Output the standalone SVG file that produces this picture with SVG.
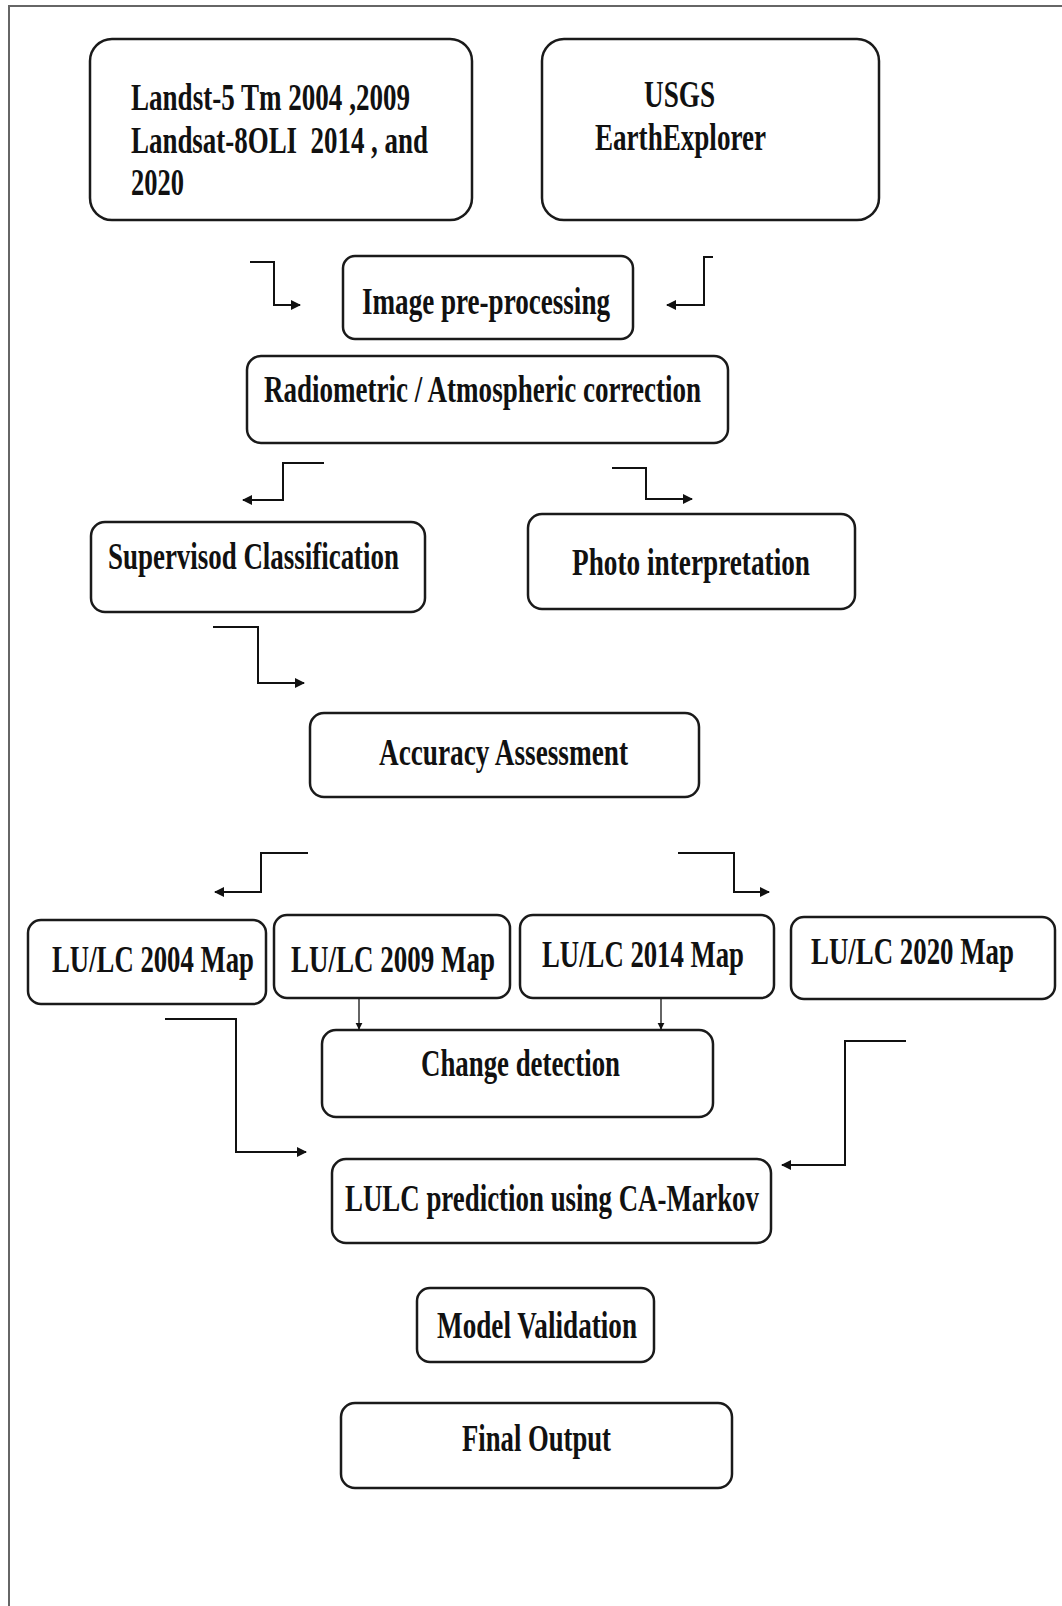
<svg xmlns="http://www.w3.org/2000/svg" width="1062" height="1606" viewBox="0 0 1062 1606">
<style>
.box{fill:#fff;stroke:#1a1a1a;stroke-width:2.5}
.t{font-family:"Liberation Serif","Times New Roman",serif;font-weight:bold;font-size:27px;fill:#111;white-space:pre}
.c{fill:none;stroke:#111;stroke-width:2}
.s{fill:none;stroke:#111;stroke-width:1.3}
</style>
<defs>
<marker id="ah" viewBox="0 0 10 10" refX="9" refY="5" markerWidth="11" markerHeight="10" markerUnits="userSpaceOnUse" orient="auto">
<path d="M0,0 L10,5 L0,10 Z" fill="#111"/>
</marker>
<marker id="ahs" viewBox="0 0 10 10" refX="9" refY="5" markerWidth="7" markerHeight="8" markerUnits="userSpaceOnUse" orient="auto">
<path d="M0,0 L10,5 L0,10 Z" fill="#111"/>
</marker>
</defs>
<rect width="1062" height="1606" fill="#fff"/>
<path d="M9,1606 V6 H1062" fill="none" stroke="#666" stroke-width="2"/>

<g id="n-landsat">
<rect class="box" x="90" y="39" width="382" height="181" rx="22"/>
<text class="t" transform="translate(131,110) scale(1,1.37)" textLength="279" lengthAdjust="spacingAndGlyphs">Landst-5 Tm 2004 ,2009</text>
<text class="t" transform="translate(131,153) scale(1,1.37)" textLength="297" lengthAdjust="spacingAndGlyphs">Landsat-8OLI  2014 , and</text>
<text class="t" transform="translate(131,195) scale(1,1.37)" textLength="53" lengthAdjust="spacingAndGlyphs">2020</text>
</g>
<g id="n-usgs">
<rect class="box" x="542" y="39" width="337" height="181" rx="22"/>
<text class="t" transform="translate(644,107) scale(1,1.37)" textLength="71" lengthAdjust="spacingAndGlyphs">USGS</text>
<text class="t" transform="translate(595,150) scale(1,1.37)" textLength="171" lengthAdjust="spacingAndGlyphs">EarthExplorer</text>
</g>
<g id="n-preproc">
<rect class="box" x="343" y="256" width="290" height="83" rx="12"/>
<text class="t" transform="translate(362,314) scale(1,1.37)" textLength="248" lengthAdjust="spacingAndGlyphs">Image pre-processing</text>
</g>
<g id="n-radiometric">
<rect class="box" x="247" y="356" width="481" height="87" rx="14"/>
<text class="t" transform="translate(264,402) scale(1,1.37)" textLength="437" lengthAdjust="spacingAndGlyphs">Radiometric / Atmospheric correction</text>
</g>
<g id="n-supervised">
<rect class="box" x="91" y="522" width="334" height="90" rx="14"/>
<text class="t" transform="translate(108,569) scale(1,1.37)" textLength="291" lengthAdjust="spacingAndGlyphs">Supervisod Classification</text>
</g>
<g id="n-photo">
<rect class="box" x="528" y="514" width="327" height="95" rx="14"/>
<text class="t" transform="translate(572,575) scale(1,1.37)" textLength="238" lengthAdjust="spacingAndGlyphs">Photo interpretation</text>
</g>
<g id="n-accuracy">
<rect class="box" x="310" y="713" width="389" height="84" rx="14"/>
<text class="t" transform="translate(379,765) scale(1,1.37)" textLength="249" lengthAdjust="spacingAndGlyphs">Accuracy Assessment</text>
</g>
<g id="n-2004">
<rect class="box" x="28" y="920" width="238" height="84" rx="13"/>
<text class="t" transform="translate(52,972) scale(1,1.37)" textLength="202" lengthAdjust="spacingAndGlyphs">LU/LC 2004 Map</text>
</g>
<g id="n-2009">
<rect class="box" x="274" y="915" width="236" height="83" rx="13"/>
<text class="t" transform="translate(291,972) scale(1,1.37)" textLength="204" lengthAdjust="spacingAndGlyphs">LU/LC 2009 Map</text>
</g>
<g id="n-2014">
<rect class="box" x="520" y="915" width="254" height="83" rx="13"/>
<text class="t" transform="translate(542,967) scale(1,1.37)" textLength="202" lengthAdjust="spacingAndGlyphs">LU/LC 2014 Map</text>
</g>
<g id="n-2020">
<rect class="box" x="791" y="917" width="264" height="82" rx="13"/>
<text class="t" transform="translate(811,964) scale(1,1.37)" textLength="203" lengthAdjust="spacingAndGlyphs">LU/LC 2020 Map</text>
</g>
<g id="n-change">
<rect class="box" x="322" y="1030" width="391" height="87" rx="14"/>
<text class="t" transform="translate(421,1076) scale(1,1.37)" textLength="199" lengthAdjust="spacingAndGlyphs">Change detection</text>
</g>
<g id="n-prediction">
<rect class="box" x="332" y="1159" width="439" height="84" rx="14"/>
<text class="t" transform="translate(345,1211) scale(1,1.37)" textLength="414" lengthAdjust="spacingAndGlyphs">LULC prediction using CA-Markov</text>
</g>
<g id="n-validation">
<rect class="box" x="417" y="1288" width="237" height="74" rx="13"/>
<text class="t" transform="translate(437,1338) scale(1,1.37)" textLength="200" lengthAdjust="spacingAndGlyphs">Model Validation</text>
</g>
<g id="n-final">
<rect class="box" x="341" y="1403" width="391" height="85" rx="14"/>
<text class="t" transform="translate(462,1451) scale(1,1.37)" textLength="149" lengthAdjust="spacingAndGlyphs">Final Output</text>
</g>

<g id="connectors">
<path class="c" d="M250,262 H274 V305 H300" marker-end="url(#ah)"/>
<path class="c" d="M713,257 H704 V305 H667" marker-end="url(#ah)"/>
<path class="c" d="M324,463 H283 V500 H243" marker-end="url(#ah)"/>
<path class="c" d="M612,468 H646 V499 H692" marker-end="url(#ah)"/>
<path class="c" d="M213,627 H258 V683 H304" marker-end="url(#ah)"/>
<path class="c" d="M308,853 H261 V892 H215" marker-end="url(#ah)"/>
<path class="c" d="M678,853 H734 V892 H769" marker-end="url(#ah)"/>
<path class="s" d="M359,999 V1029" marker-end="url(#ahs)"/>
<path class="s" d="M661,999 V1029" marker-end="url(#ahs)"/>
<path class="c" d="M165,1019 H236 V1152 H306" marker-end="url(#ah)"/>
<path class="c" d="M906,1041 H845 V1165 H782" marker-end="url(#ah)"/>
</g>
</svg>
